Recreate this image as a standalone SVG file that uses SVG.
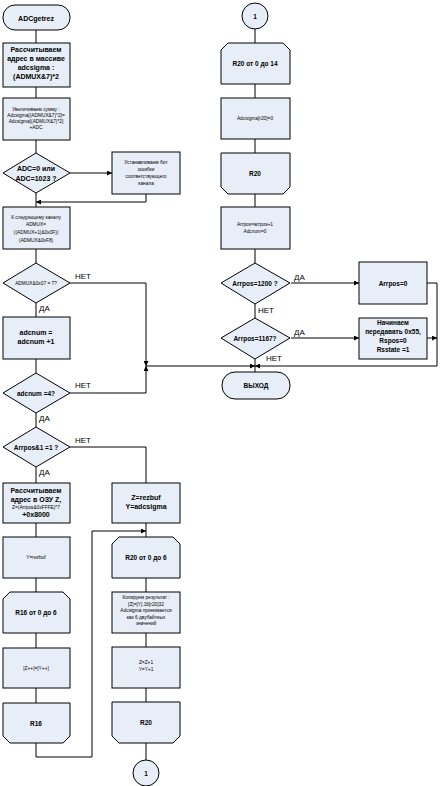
<svg xmlns="http://www.w3.org/2000/svg" width="444" height="786" viewBox="0 0 444 786">
<defs>
<marker id="ar" viewBox="0 0 6 6" refX="6" refY="3" markerWidth="5" markerHeight="5" orient="auto" markerUnits="userSpaceOnUse">
<path d="M0,0 L6,3 L0,6 Z" fill="#000"/>
</marker>
<style>
.s{fill:#E8EEF7;stroke:#000;stroke-width:1}
.c{fill:none;stroke:#000;stroke-width:1}
.ca{fill:none;stroke:#000;stroke-width:1;marker-end:url(#ar)}
text{font-family:"Liberation Sans",Arial,sans-serif;text-anchor:middle;fill:#000}
.b{font-size:7px;font-weight:bold}
.m{font-size:6.5px;font-weight:bold}
.t{font-size:4.8px}
.l{font-size:8px;text-anchor:start}
</style>
</defs>
<rect width="444" height="786" fill="#fff"/>
<g id="connectors">
<path class="c" d="M36,30V43"/>
<path class="c" d="M36,87V98"/>
<path class="c" d="M36,140V153"/>
<path class="ca" d="M70,173H112"/>
<path class="ca" d="M146,194V202H36"/>
<path class="c" d="M36,193V207"/>
<path class="c" d="M36,249V263"/>
<path class="ca" d="M70,283H146V366"/>
<path class="c" d="M36,303V317"/>
<path class="c" d="M36,359V373"/>
<path class="ca" d="M70,393H146V366"/>
<path class="ca" d="M146,366H255"/>
<path class="c" d="M36,413V427"/>
<path class="c" d="M70,447H146V483"/>
<path class="c" d="M36,467V483"/>
<path class="c" d="M36,523V537"/>
<path class="c" d="M36,578V592"/>
<path class="c" d="M36,633V648"/>
<path class="c" d="M36,688V703"/>
<path class="ca" d="M36,743V757H92V531H146"/>
<path class="c" d="M146,523V537"/>
<path class="c" d="M146,578V592"/>
<path class="c" d="M146,633V647"/>
<path class="c" d="M146,688V702"/>
<path class="c" d="M146,743V760"/>
<path class="c" d="M255,29V43"/>
<path class="c" d="M255,84V98"/>
<path class="c" d="M255,139V153"/>
<path class="c" d="M255,194V207"/>
<path class="c" d="M255,249V263"/>
<path class="ca" d="M291,283H359"/>
<path class="c" d="M255,304V318"/>
<path class="ca" d="M291,338H359"/>
<path class="c" d="M255,359V372"/>
<path class="ca" d="M427,283H437V366H255"/>
<path class="ca" d="M427,338H437"/>
<text class="l" x="75" y="279">НЕТ</text>
<text class="l" x="39" y="311">ДА</text>
<text class="l" x="75" y="388">НЕТ</text>
<text class="l" x="39" y="421">ДА</text>
<text class="l" x="75" y="443">НЕТ</text>
<text class="l" x="39" y="475">ДА</text>
<text class="l" x="294" y="280">ДА</text>
<text class="l" x="258" y="313">НЕТ</text>
<text class="l" x="294" y="335">ДА</text>
<text class="l" x="266" y="361">НЕТ</text>
</g>
<g id="n_start"><rect class="s" x="3" y="5" width="67" height="25" rx="12"/><text class="b" x="36" y="20.5">ADCgetrez</text></g>
<g id="n_addr"><rect class="s" x="3" y="43" width="67" height="44"/>
<text class="b" x="36" y="52">Рассчитываем</text><text class="b" x="36" y="61">адрес в массиве</text><text class="b" x="36" y="70">adcsigma :</text><text class="b" x="36" y="79">(ADMUX&amp;7)*2</text></g>
<g id="n_sum"><rect class="s" x="3" y="98" width="67" height="42"/>
<text class="t" x="36" y="111">Увеличиваем сумму :</text><text class="t" x="36" y="117">Adcsigma[(ADMUX&amp;7)*2]=</text><text class="t" x="36" y="123">Adcsigma[(ADMUX&amp;7)*2]</text><text class="t" x="36" y="129">+ADC</text></g>
<g id="n_adc"><path class="s" d="M36,153L70,173L36,193L3,173Z"/><text class="b" x="36" y="171">ADC=0 или</text><text class="b" x="36" y="181">ADC=1023 ?</text></g>
<g id="n_err"><rect class="s" x="112" y="152" width="68" height="42"/>
<text class="t" x="146" y="164">Устанавливаем бит</text><text class="t" x="146" y="171">ошибки</text><text class="t" x="146" y="178">соответствующего</text><text class="t" x="146" y="185">канала</text></g>
<g id="n_next"><rect class="s" x="3" y="207" width="67" height="42"/>
<text class="t" x="36" y="219">К следующему каналу</text><text class="t" x="36" y="226">ADMUX=</text><text class="t" x="36" y="234">((ADMUX+1)&amp;0x0F)|</text><text class="t" x="36" y="242">(ADMUX&amp;0xF8)</text></g>
<g id="n_d7"><path class="s" d="M36,263L70,283L36,303L3,283Z"/><text class="t" x="36" y="285">ADMUX&amp;0x07 = 7?</text></g>
<g id="n_inc"><rect class="s" x="3" y="317" width="67" height="42"/><text class="b" x="36" y="335">adcnum =</text><text class="b" x="36" y="344">adcnum +1</text></g>
<g id="n_d4"><path class="s" d="M36,373L70,393L36,413L3,393Z"/><text class="m" x="36" y="395.5">adcnum =4?</text></g>
<g id="n_d1"><path class="s" d="M36,427L70,447L36,467L3,447Z"/><text class="m" x="36" y="449.5">Arrpos&amp;1 =1 ?</text></g>
<g id="n_ram"><rect class="s" x="3" y="483" width="67" height="40"/>
<text class="b" x="36" y="493">Рассчитываем</text><text class="b" x="36" y="502">адрес в ОЗУ Z,</text><text class="t" x="36" y="508.5">Z=(Arrpos&amp;0xFFFE)*7</text><text class="b" x="36" y="517">+0x8000</text></g>
<g id="n_zr"><rect class="s" x="112" y="483" width="68" height="40"/><text class="b" x="146" y="500">Z=rezbuf</text><text class="b" x="146" y="509">Y=adcsigma</text></g>
<g id="n_yr"><rect class="s" x="3" y="537" width="67" height="41"/><text class="t" x="36" y="559">Y=rezbuf</text></g>
<g id="n_r16s"><path class="s" d="M3,633V599L10,592H63L70,599V633Z"/><text class="m" x="36" y="614.5">R16 от 0 до 6</text></g>
<g id="n_copy1"><rect class="s" x="3" y="648" width="67" height="40"/><text class="t" x="36" y="670">[Z++]=[Y++]</text></g>
<g id="n_r16e"><path class="s" d="M3,703H70V736L63,743H10L3,736Z"/><text class="m" x="36" y="725.5">R16</text></g>
<g id="n_r20s"><path class="s" d="M112,578V544L119,537H173L180,544V578Z"/><text class="m" x="146" y="559.5">R20 от 0 до 6</text></g>
<g id="n_copy2"><rect class="s" x="112" y="592" width="68" height="41"/>
<text class="t" x="146" y="599">Копируем результат :</text><text class="t" x="146" y="605.5">[Z]=[Y].16[r20]32</text><text class="t" x="146" y="612">Adcsigma принимается</text><text class="t" x="146" y="618.5">как 6 двубайтных</text><text class="t" x="146" y="625">значений</text></g>
<g id="n_zinc"><rect class="s" x="112" y="647" width="68" height="41"/><text class="t" x="146" y="664">Z=Z+1</text><text class="t" x="146" y="671">Y=Y+1</text></g>
<g id="n_r20e"><path class="s" d="M112,702H180V736L173,743H119L112,736Z"/><text class="m" x="146" y="725">R20</text></g>
<g id="n_c1b"><circle class="s" cx="146" cy="773" r="13"/><text class="m" x="146" y="775.5">1</text></g>
<g id="n_c1t"><circle class="s" cx="255" cy="16" r="13"/><text class="m" x="255" y="18.5">1</text></g>
<g id="n_r20s2"><path class="s" d="M221,84V50L228,43H283L290,50V84Z"/><text class="m" x="255" y="65.5">R20 от 0 до 14</text></g>
<g id="n_clr"><rect class="s" x="221" y="98" width="69" height="41"/><text class="t" x="255" y="120">Adcsigma[r20]=0</text></g>
<g id="n_r20e2"><path class="s" d="M221,153H290V187L283,194H228L221,187Z"/><text class="m" x="255" y="175.5">R20</text></g>
<g id="n_arr"><rect class="s" x="221" y="207" width="69" height="42"/><text class="t" x="255" y="226">Arrpos=arrpos+1</text><text class="t" x="255" y="233">Adcnum=0</text></g>
<g id="n_d1200"><path class="s" d="M255,263L290,283L255,304L221,283Z"/><text class="m" x="255" y="285.5">Arrpos=1200 ?</text></g>
<g id="n_a0"><rect class="s" x="359" y="262" width="68" height="42"/><text class="m" x="393" y="285.5">Arrpos=0</text></g>
<g id="n_d1167"><path class="s" d="M255,318L290,338L255,359L221,338Z"/><text class="m" x="255" y="340.5">Arrpos=1167?</text></g>
<g id="n_send"><rect class="s" x="359" y="318" width="68" height="41"/>
<text class="m" x="393" y="325">Начинаем</text><text class="m" x="393" y="334">передавать  0x55,</text><text class="m" x="393" y="343">Rspos=0</text><text class="m" x="393" y="352">Rsstate =1</text></g>
<g id="n_exit"><rect class="s" x="222" y="372" width="68" height="27" rx="13"/><text class="m" x="256" y="388">ВЫХОД</text></g>
</svg>
